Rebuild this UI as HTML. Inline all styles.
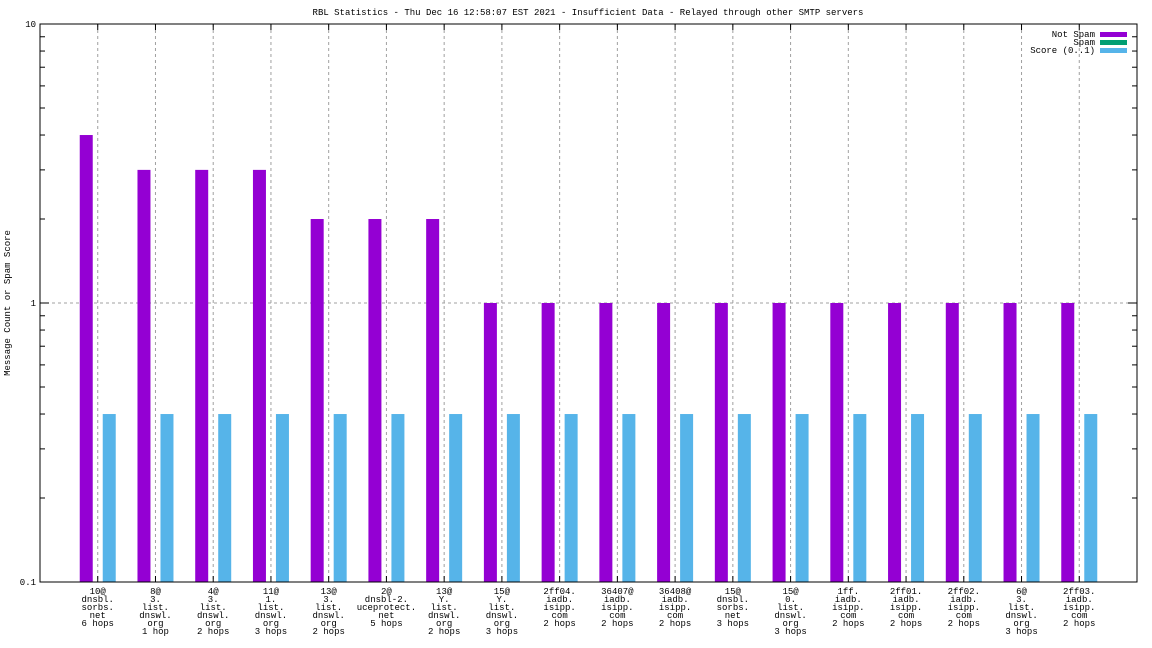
<!DOCTYPE html>
<html><head><meta charset="utf-8"><style>
body{margin:0;background:#fff}
svg{display:block;font-family:"Liberation Mono",monospace;font-size:9px}
</style></head><body>
<svg id="c" width="1152" height="648" xmlns="http://www.w3.org/2000/svg">
<rect width="1152" height="648" fill="#fff"/>
<text x="588" y="15" text-anchor="middle">RBL Statistics - Thu Dec 16 12:58:07 EST 2021 - Insufficient Data - Relayed through other SMTP servers</text>
<text transform="translate(10,303) rotate(-90)" text-anchor="middle">Message Count or Spam Score</text>
<g id="grid"></g><g id="bars"></g><g id="axes"></g>
<g>
<text x="1095" y="37" text-anchor="end">Not Spam</text>
<rect x="1100" y="32" width="27" height="5" fill="#9400d3"/>
<text x="1095" y="45" text-anchor="end">Spam</text>
<rect x="1100" y="40" width="27" height="5" fill="#009e73"/>
<text x="1095" y="53" text-anchor="end">Score (0..1)</text>
<rect x="1100" y="48" width="27" height="5" fill="#56b4e9"/>
</g>
</svg>
<script>
const categories=[["10@","dnsbl.","sorbs.","net","6 hops"],["8@","3.","list.","dnswl.","org","1 hop"],["4@","3.","list.","dnswl.","org","2 hops"],["11@","1.","list.","dnswl.","org","3 hops"],["13@","3.","list.","dnswl.","org","2 hops"],["2@","dnsbl-2.","uceprotect.","net","5 hops"],["13@","Y.","list.","dnswl.","org","2 hops"],["15@","Y.","list.","dnswl.","org","3 hops"],["2ff04.","iadb.","isipp.","com","2 hops"],["36407@","iadb.","isipp.","com","2 hops"],["36408@","iadb.","isipp.","com","2 hops"],["15@","dnsbl.","sorbs.","net","3 hops"],["15@","0.","list.","dnswl.","org","3 hops"],["1ff.","iadb.","isipp.","com","2 hops"],["2ff01.","iadb.","isipp.","com","2 hops"],["2ff02.","iadb.","isipp.","com","2 hops"],["6@","3.","list.","dnswl.","org","3 hops"],["2ff03.","iadb.","isipp.","com","2 hops"]];
const notSpam=[4,3,3,3,2,2,2,1,1,1,1,1,1,1,1,1,1,1];
const spam=[0,0,0,0,0,0,0,0,0,0,0,0,0,0,0,0,0,0];
const score=[0.4,0.4,0.4,0.4,0.4,0.4,0.4,0.4,0.4,0.4,0.4,0.4,0.4,0.4,0.4,0.4,0.4,0.4];
const yTicks=[0.1,1,10];
const yTickLabels=["0.1","1","10"];
const L=40,R=1137,T=24,B=582,NS="http://www.w3.org/2000/svg";
const x=i=>L+(R-L)*(i+1)/(categories.length+1);
const y=v=>B-(Math.log10(v)+1)/2*(B-T);
const g=id=>document.getElementById(id);
function el(t,a,p){const e=document.createElementNS(NS,t);for(const k in a)e.setAttribute(k,a[k]);g(p).appendChild(e);return e;}
categories.forEach((c,i)=>{
 const l=el('line',{x1:x(i),x2:x(i),y1:T,y2:B,stroke:'#a0a0a0','stroke-dasharray':'3,3'},'grid');
 
 
 const tk=el('line',{x1:x(i),x2:x(i),y1:B,y2:B-6,stroke:'#000'},'axes');
 
 
 const tt=el('line',{x1:x(i),x2:x(i),y1:T,y2:T+6,stroke:'#000'},'axes');
 
 
 const t=el('text',{x:x(i),y:B+12,'text-anchor':'middle'},'axes');
 
 
 c.forEach((s,j)=>{const ts=document.createElementNS(NS,'tspan');ts.setAttribute('x',x(i));ts.setAttribute('dy',j?8:0);ts.textContent=s;t.appendChild(ts);});
 if(notSpam[i]>0){const b=el('rect',{x:x(i)-18,y:y(notSpam[i]),width:13,height:B-y(notSpam[i]),fill:'#9400d3'},'bars');
 
 }
 if(spam[i]>0){const b=el('rect',{x:x(i)-6,y:y(spam[i]),width:13,height:B-y(spam[i]),fill:'#009e73'},'bars');
 
 }
 if(score[i]>0){const b=el('rect',{x:x(i)+5,y:y(score[i]),width:13,height:B-y(score[i]),fill:'#56b4e9'},'bars');
 
 }
});
const hl=el('line',{x1:L,x2:R,y1:y(1),y2:y(1),stroke:'#a0a0a0','stroke-dasharray':'3,3'},'grid');


yTicks.forEach((v,k)=>{
 const t=el('text',{x:L-4,y:y(v)+3,'text-anchor':'end'},'axes');t.textContent=yTickLabels[k];
 
 
 if(k<yTicks.length-1){for(let m=1;m<10;m++){const yy=y(v*m);const len=m==1?9:5;
  el('line',{x1:L,x2:L+len,y1:yy,y2:yy,stroke:'#000'},'axes');
  el('line',{x1:R,x2:R-len,y1:yy,y2:yy,stroke:'#000'},'axes');}}
});
const f=el('rect',{x:L,y:T,width:R-L,height:B-T,fill:'none',stroke:'#000'},'axes');


</script>
</body></html>
